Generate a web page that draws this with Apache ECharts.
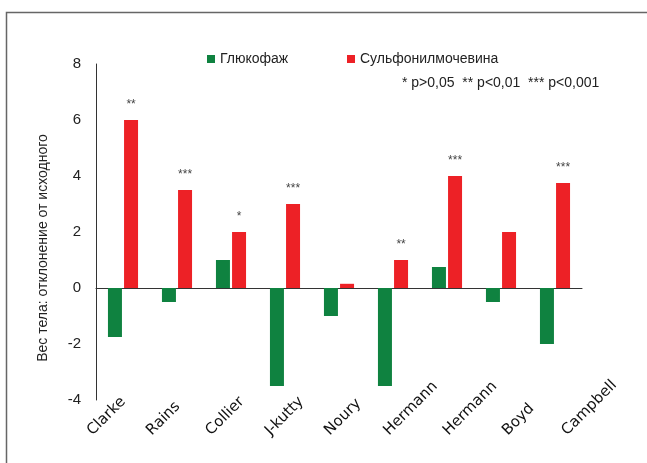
<!DOCTYPE html>
<html>
<head>
<meta charset="utf-8">
<script src="https://cdn.jsdelivr.net/npm/echarts@6/dist/echarts.min.js"></script>
<style>
  html, body { margin: 0; padding: 0; background: #fff; }
  #chart { width: 647px; height: 463px; }
</style>
</head>
<body>
<div id="chart"></div>
<script>
// Study names along the horizontal axis
const studies = ['Clarke', 'Rains', 'Collier', 'J-kutty', 'Noury', 'Hermann', 'Hermann', 'Boyd', 'Campbell'];
// Change of body weight from baseline, kg
const glucophage = [-1.75, -0.5, 1, -3.5, -1, -3.5, 0.75, -0.5, -2];
const sulfonylurea = [6, 3.5, 2, 3, 0.15, 1, 4, 2, 3.75];
// Significance marks printed above the sulfonylurea bars
const significance = ['**', '***', '*', '***', '', '**', '***', '', '***'];
// Value axis ticks
const yMin = -4, yMax = 8, yStep = 2;
const seriesNames = ['Глюкофаж', 'Сульфонилмочевина'];
const yTitle = 'Вес тела: отклонение от исходного';
const pNote = '* p>0,05  ** p<0,01  *** p<0,001';

const GREEN = '#0f8240';
const RED = '#ed2126';
const SANS = "'Liberation Sans', Arial, sans-serif";

const chart = echarts.init(document.getElementById('chart'), null, { renderer: 'canvas' });

const option = {
  backgroundColor: '#fff',
  animation: false,
  grid: [
    // bars
    { left: 96, top: 64, width: 486, height: 336 },
    // rotated study names
    { left: 60, bottom: 30, width: 534, height: 100 }
  ],
  legend: [
    {
      data: [seriesNames[0]], left: 202, top: 47, icon: 'rect',
      itemWidth: 8, itemHeight: 8, itemGap: 0,
      textStyle: { fontFamily: SANS, fontSize: 14, color: '#222' }
    },
    {
      data: [seriesNames[1]], left: 342, top: 47, icon: 'rect',
      itemWidth: 8, itemHeight: 8, itemGap: 0,
      textStyle: { fontFamily: SANS, fontSize: 14, color: '#222' }
    }
  ],
  xAxis: [
    {
      type: 'category', gridIndex: 0, data: studies,
      axisLine: { show: true, onZero: true, lineStyle: { color: '#333', width: 1 } },
      axisTick: { show: false },
      axisLabel: { show: false },
      splitLine: { show: false }
    },
    {
      type: 'category', gridIndex: 1, data: studies, position: 'bottom',
      axisLine: { show: false }, axisTick: { show: false }, splitLine: { show: false },
      axisLabel: {
        show: true, interval: 0, rotate: 45, align: 'left', verticalAlign: 'middle', margin: 0,
        fontFamily: 'DejaVu Sans', fontSize: 15, color: '#111'
      }
    }
  ],
  yAxis: [
    {
      type: 'value', gridIndex: 0, min: yMin, max: yMax, interval: yStep,
      axisLine: { show: true, lineStyle: { color: '#333', width: 1 } },
      axisTick: { show: false },
      splitLine: { show: false },
      axisLabel: { margin: 15, fontFamily: SANS, fontSize: 15, color: '#222' }
    },
    { type: 'value', gridIndex: 1, show: false, min: 0, max: 1 }
  ],
  graphic: [
    // open frame round the figure
    {
      type: 'rect', silent: true,
      shape: { x: 6.5, y: 12.5, width: 700, height: 500 },
      style: { fill: 'none', stroke: '#666', lineWidth: 1.5 }
    },
    {
      type: 'text', x: 43, y: 248, rotation: Math.PI / 2,
      style: {
        text: yTitle, fontFamily: SANS, fontSize: 14, fill: '#222',
        textAlign: 'center', textVerticalAlign: 'middle'
      }
    },
    {
      type: 'text', x: 402, y: 83,
      style: {
        text: pNote, fontFamily: SANS, fontSize: 14, fill: '#222',
        textAlign: 'left', textVerticalAlign: 'middle'
      }
    }
  ],
  series: [
    {
      name: seriesNames[0], type: 'bar', xAxisIndex: 0, yAxisIndex: 0,
      data: glucophage, barWidth: 14, barGap: '15%',
      itemStyle: { color: GREEN }
    },
    {
      name: seriesNames[1], type: 'bar', xAxisIndex: 0, yAxisIndex: 0,
      data: sulfonylurea, barWidth: 14, barGap: '15%',
      itemStyle: { color: RED },
      label: {
        show: true, position: 'top', distance: 9,
        formatter: p => significance[p.dataIndex],
        fontFamily: SANS, fontSize: 12, color: '#444'
      }
    }
  ]
};

chart.setOption(option);
</script>
</body>
</html>
